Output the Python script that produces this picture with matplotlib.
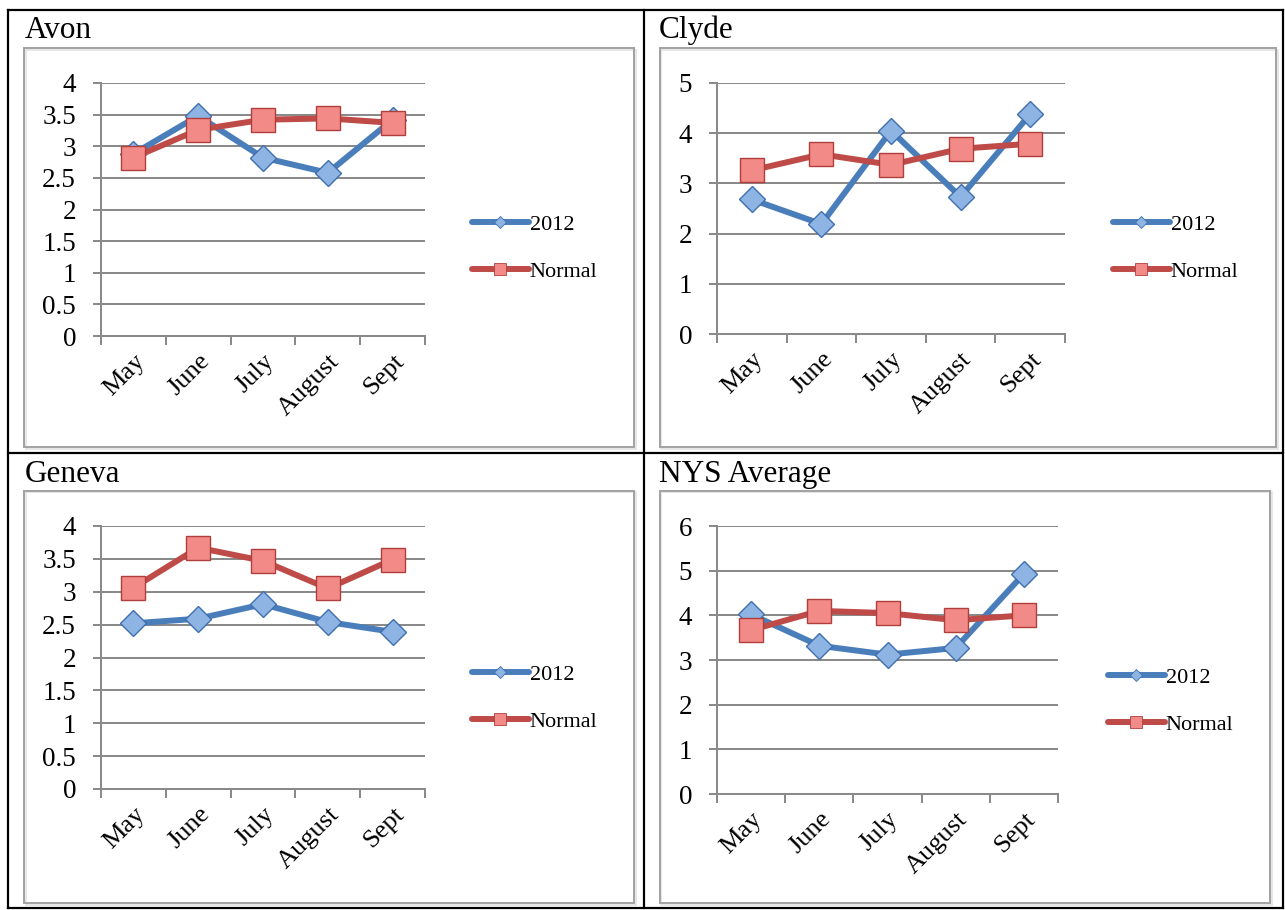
import matplotlib
matplotlib.use("Agg")
import matplotlib.pyplot as plt
from matplotlib.patches import Rectangle
from matplotlib.lines import Line2D
from matplotlib.ticker import FixedLocator, NullFormatter

# ---------------- data ----------------
months = ['May', 'June', 'July', 'August', 'Sept']
series_names = ['2012', 'Normal']

avon_2012 = [2.88, 3.48, 2.82, 2.58, 3.42]
avon_normal = [2.82, 3.26, 3.42, 3.44, 3.37]
clyde_2012 = [2.68, 2.19, 4.05, 2.73, 4.38]
clyde_normal = [3.26, 3.58, 3.37, 3.69, 3.79]
geneva_2012 = [2.52, 2.59, 2.81, 2.54, 2.39]
geneva_normal = [3.06, 3.67, 3.47, 3.05, 3.49]
nys_2012 = [4.02, 3.32, 3.12, 3.27, 4.93]
nys_normal = [3.67, 4.10, 4.05, 3.89, 4.00]

titles = ['Avon', 'Clyde', 'Geneva', 'NYS Average']
avon_ticks = [0, 0.5, 1, 1.5, 2, 2.5, 3, 3.5, 4]
clyde_ticks = [0, 1, 2, 3, 4, 5]
geneva_ticks = [0, 0.5, 1, 1.5, 2, 2.5, 3, 3.5, 4]
nys_ticks = [0, 1, 2, 3, 4, 5, 6]

# ---------------- layout helpers ----------------
W, H = 1285, 910
DPI = 100
fig = plt.figure(figsize=(W / DPI, H / DPI), dpi=DPI)
fig.patch.set_facecolor('white')

SERIF = ['Liberation Serif', 'DejaVu Serif']


def fx(px):
    return px / W


def fy(py):
    return 1 - py / H


def px2pt(px):
    return px * 72.0 / DPI


GRID = '#8a8a8a'
BLUE_LINE = '#4A7EBB'
BLUE_FILL = '#8DB4E2'
BLUE_EDGE = '#3F6FAF'
RED_LINE = '#BE4B48'
RED_FILL = '#F28A87'
RED_EDGE = '#B03F3C'

# table borders
tbl = dict(color='black', lw=px2pt(2.2), solid_capstyle='projecting')
for (x0, y0, x1, y1) in [(8, 10, 1283, 10), (8, 453, 1283, 453), (8, 908, 1283, 908),
                         (8, 10, 8, 908), (644, 10, 644, 908), (1283, 10, 1283, 908)]:
    fig.add_artist(Line2D([fx(x0), fx(x1)], [fy(y0), fy(y1)], transform=fig.transFigure, **tbl))

panels = [
    dict(title=titles[0], s1=avon_2012, s2=avon_normal, ticks=avon_ticks,
         title_xy=(25, 38), box=(24, 48, 634, 447), plot=(101, 83, 425, 336),
         leg=(472, 248)),
    dict(title=titles[1], s1=clyde_2012, s2=clyde_normal, ticks=clyde_ticks,
         title_xy=(659, 38), box=(660, 48, 1276, 447), plot=(717, 83, 1065, 334),
         leg=(1113, 248)),
    dict(title=titles[2], s1=geneva_2012, s2=geneva_normal, ticks=geneva_ticks,
         title_xy=(25, 482), box=(24, 491, 634, 903), plot=(101, 526, 425, 789),
         leg=(472, 698)),
    dict(title=titles[3], s1=nys_2012, s2=nys_normal, ticks=nys_ticks,
         title_xy=(659, 482), box=(660, 491, 1270, 903), plot=(717, 526, 1058, 794),
         leg=(1108, 701)),
]

x = list(range(len(months)))

for p in panels:
    # title
    tx, ty = p['title_xy']
    fig.text(fx(tx), fy(ty), p['title'], family=SERIF, fontsize=22.5,
             ha='left', va='baseline', color='black')
    # chart frame (with faint shadow)
    bx0, by0, bx1, by1 = p['box']
    fig.add_artist(Rectangle((fx(bx0 + 1.5), fy(by1 + 1.5)), fx(bx1 - bx0), fy(by0) - fy(by1),
                             transform=fig.transFigure, fill=False, ec='#dedede', lw=px2pt(1.5)))
    fig.add_artist(Rectangle((fx(bx0), fy(by1)), fx(bx1 - bx0), fy(by0) - fy(by1),
                             transform=fig.transFigure, fill=False, ec='#a3a3a3', lw=px2pt(2)))
    # plot area
    ax0, ay0, ax1, ay1 = p['plot']
    ax = fig.add_axes([fx(ax0), fy(ay1), fx(ax1 - ax0), fy(ay0) - fy(ay1)])
    ax.set_facecolor('none')
    ticks = p['ticks']
    ax.set_ylim(ticks[0], ticks[-1])
    ax.set_xlim(-0.5, len(months) - 0.5)
    ax.set_yticks(ticks)
    ax.set_yticklabels([('%g' % t) for t in ticks], family=SERIF, fontsize=19.5)
    ax.yaxis.grid(True, color=GRID, lw=px2pt(2.0))
    ax.set_axisbelow(True)
    for side in ['top', 'right']:
        ax.spines[side].set_visible(False)
    for side in ['left', 'bottom']:
        ax.spines[side].set_color(GRID)
        ax.spines[side].set_linewidth(px2pt(2.0))
    ax.tick_params(axis='y', direction='out', length=px2pt(8), width=px2pt(2.0),
                   color=GRID, pad=px2pt(17))
    # x: labels at category centres, ticks at boundaries
    ax.set_xticks(x)
    ax.set_xticklabels(months, family=SERIF, fontsize=19, rotation=45,
                       ha='right', va='top', rotation_mode='anchor')
    ax.tick_params(axis='x', which='major', length=0, pad=px2pt(14))
    ax.xaxis.set_minor_locator(FixedLocator([i - 0.5 for i in range(len(months) + 1)]))
    ax.xaxis.set_minor_formatter(NullFormatter())
    ax.tick_params(axis='x', which='minor', direction='out', length=px2pt(9),
                   width=px2pt(2.0), color=GRID)

    l1, = ax.plot(x, p['s1'], color=BLUE_LINE, lw=4.3, marker='D', ms=13,
                  mfc=BLUE_FILL, mec=BLUE_EDGE, mew=1.0, label=series_names[0],
                  solid_joinstyle='round', zorder=3, clip_on=False)
    l2, = ax.plot(x, p['s2'], color=RED_LINE, lw=4.3, marker='s', ms=17,
                  mfc=RED_FILL, mec=RED_EDGE, mew=1.0, label=series_names[1],
                  solid_joinstyle='round', zorder=4, clip_on=False)

    lx, ly = p['leg']
    leg = ax.legend(handles=[l1, l2], loc='center left',
                    bbox_to_anchor=(fx(lx), fy(ly)), bbox_transform=fig.transFigure,
                    frameon=False, borderpad=0, borderaxespad=0,
                    handlelength=2.55, handletextpad=0.05, labelspacing=1.2,
                    numpoints=1, prop=dict(family=SERIF, size=16))
    hs = leg.legend_handles
    hs[0].set_markersize(6.5)
    hs[1].set_markersize(8.5)
    for h in hs:
        h.set_markeredgewidth(0.6)
        h.set_solid_capstyle('round')

fig.savefig('out.png', dpi=DPI, facecolor='white')
